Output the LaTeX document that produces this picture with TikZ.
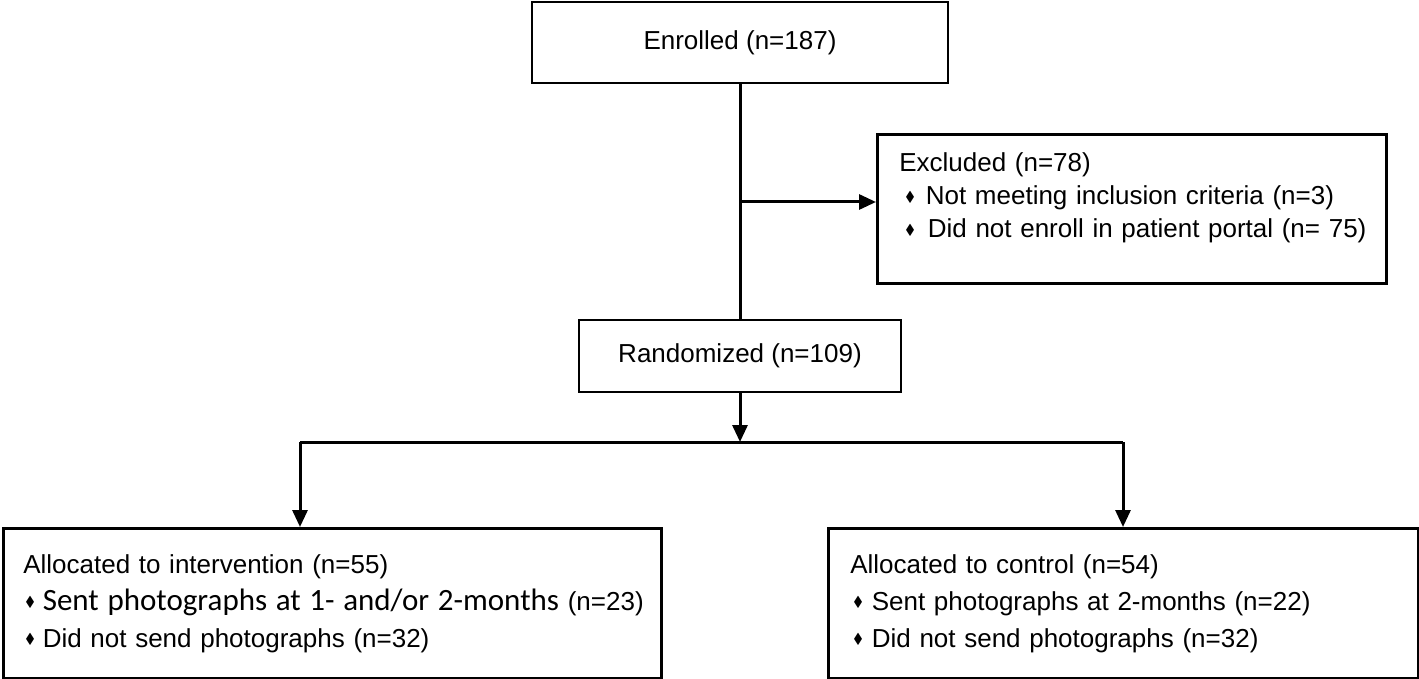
\documentclass[tikz,border=0pt]{standalone}
\usepackage{fontspec}
\usepackage{amssymb}
\usepackage{graphicx}
\setmainfont{Liberation Sans}
\newfontfamily\calib{Carlito}
\usetikzlibrary{arrows.meta}
\newcommand{\bul}{\raisebox{0.12em}{\scalebox{0.55}{$\blacklozenge$}}}
\newcommand{\bitem}[2]{\hspace*{#1}\bul\hspace{#2}}
\begin{document}
\begin{tikzpicture}[x=1pt,y=-1pt,
  box/.style={draw, line width=2.6pt, rectangle, inner sep=0pt, font=\fontsize{26}{37}\selectfont},
  tbox/.style={box, align=left, inner ysep=0pt},
  conn/.style={line width=3pt},
  arr/.style={conn, -{Triangle[length=17pt,width=15pt]}}]
\useasboundingbox[fill=white] (0,0) rectangle (1419,679);

\node[box, minimum width=416pt, minimum height=81pt] (enr) at (740,42.5) {Enrolled (n=187)};

\node[tbox, anchor=north west, inner xsep=22pt, text width=465pt, minimum height=149pt,
      font=\fontsize{26}{33}\selectfont] (exc) at (876,133)
  {\mbox{Excluded (n=78)}\\
   \mbox{\bitem{6pt}{11pt}Not meeting inclusion criteria (n=3)}\\
   \mbox{\bitem{6pt}{13pt}Did not enroll in patient portal (n=~75)}\\[-6pt]\mbox{}};

\node[box, minimum width=322pt, minimum height=72pt] (rnd) at (740,356) {Randomized (n=109)};

\node[tbox, anchor=north west, inner xsep=20pt, text width=618pt, minimum height=150pt] (int) at (2,527)
  {\mbox{Allocated to intervention (n=55)}\\
   \mbox{\bitem{2pt}{8pt}{\calib\fontsize{31}{37}\selectfont Sent photographs at 1- and/or 2-months} (n=23)}\\
   \mbox{\bitem{2pt}{8pt}Did not send photographs (n=32)}};

\node[tbox, anchor=north west, inner xsep=22pt, text width=546pt, minimum height=150pt] (ctl) at (827,527)
  {\mbox{Allocated to control (n=54)}\\
   \mbox{\bitem{3pt}{9pt}Sent photographs at 2-months (n=22)}\\
   \mbox{\bitem{3pt}{9pt}Did not send photographs (n=32)}};

\coordinate (j1) at (740,202);
\coordinate (j2) at (740,442);
\coordinate (L) at (300,442);
\coordinate (R) at (1123,442);

\draw[conn] (enr.south) -- (rnd.north);
\draw[arr] (j1) -- (j1 -| exc.west);
\draw[arr] (rnd.south) -- (j2);
\draw[conn] (L) -- (R);
\draw[arr] (L) -- (L |- int.north);
\draw[arr] (R) -- (R |- ctl.north);
\end{tikzpicture}
\end{document}
